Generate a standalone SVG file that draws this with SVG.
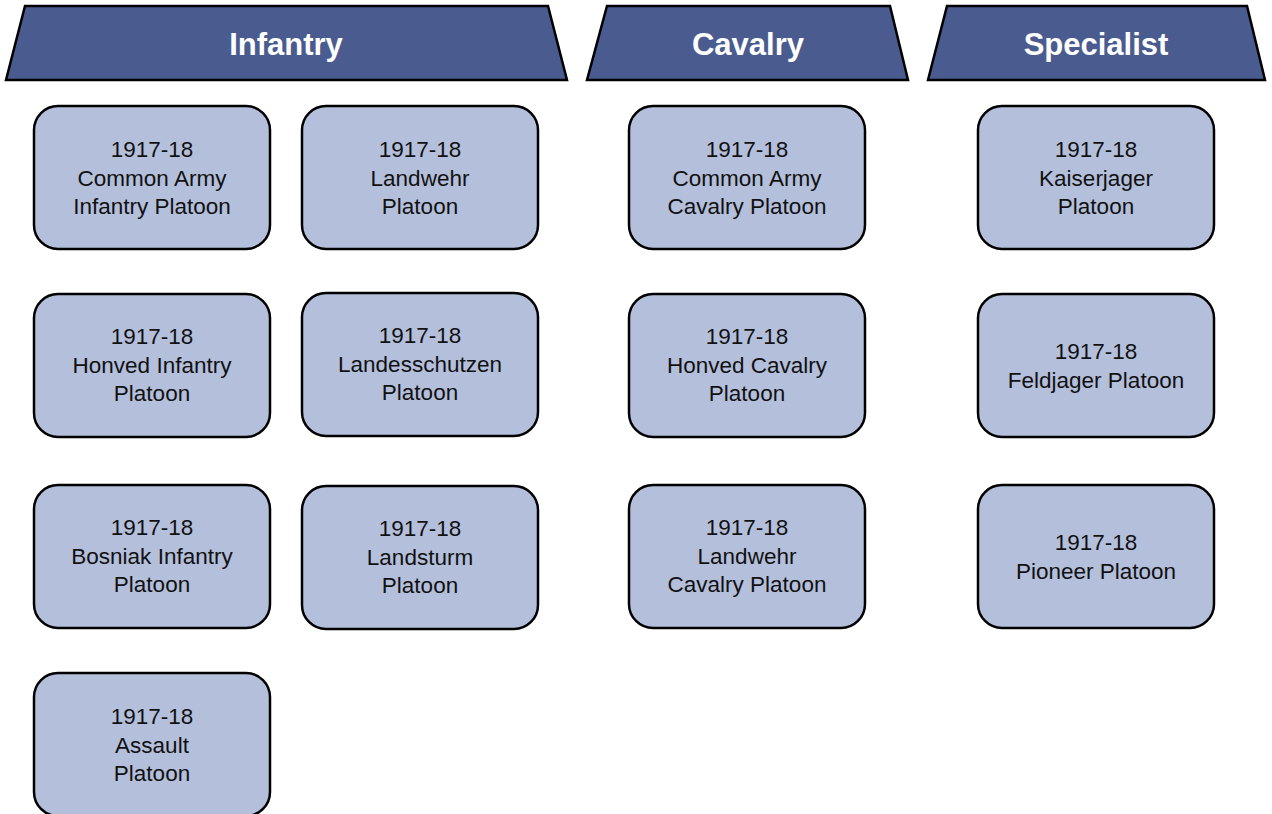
<svg xmlns="http://www.w3.org/2000/svg" width="1272" height="814" viewBox="0 0 1272 814">
<style>
.hdr{fill:#4a5b8f;stroke:#000;stroke-width:2.5;stroke-linejoin:miter}
.ht{font-family:"Liberation Sans",Arial,sans-serif;font-weight:bold;font-size:31px;fill:#fff;text-anchor:middle}
.box{fill:#b4bfdc;stroke:#000;stroke-width:2.5}
.bt{font-family:"Liberation Sans",Arial,sans-serif;font-size:22.5px;fill:#111;text-anchor:middle}
</style>
<rect width="1272" height="814" fill="#fff"/>
<g id="hdr-infantry"><polygon class="hdr" points="25,6 548,6 567,80 6,80"/><text class="ht" x="286" y="55">Infantry</text></g>
<g id="hdr-cavalry"><polygon class="hdr" points="607,6 890,6 908,80 587,80"/><text class="ht" x="748" y="55">Cavalry</text></g>
<g id="hdr-specialist"><polygon class="hdr" points="947,6 1247,6 1265,80 928,80"/><text class="ht" x="1096" y="55">Specialist</text></g>

<g id="n1"><rect class="box" x="34" y="106" width="236" height="143" rx="24"/><text class="bt" x="152" y="157">1917-18<tspan x="152" dy="28.5">Common Army</tspan><tspan x="152" dy="28.5">Infantry Platoon</tspan></text></g>
<g id="n2"><rect class="box" x="302" y="106" width="236" height="143" rx="24"/><text class="bt" x="420" y="157">1917-18<tspan x="420" dy="28.5">Landwehr</tspan><tspan x="420" dy="28.5">Platoon</tspan></text></g>
<g id="n3"><rect class="box" x="34" y="294" width="236" height="143" rx="24"/><text class="bt" x="152" y="344">1917-18<tspan x="152" dy="28.5">Honved Infantry</tspan><tspan x="152" dy="28.5">Platoon</tspan></text></g>
<g id="n4"><rect class="box" x="302" y="293" width="236" height="143" rx="24"/><text class="bt" x="420" y="343">1917-18<tspan x="420" dy="28.5">Landesschutzen</tspan><tspan x="420" dy="28.5">Platoon</tspan></text></g>
<g id="n5"><rect class="box" x="34" y="485" width="236" height="143" rx="24"/><text class="bt" x="152" y="535">1917-18<tspan x="152" dy="28.5">Bosniak Infantry</tspan><tspan x="152" dy="28.5">Platoon</tspan></text></g>
<g id="n6"><rect class="box" x="302" y="486" width="236" height="143" rx="24"/><text class="bt" x="420" y="536">1917-18<tspan x="420" dy="28.5">Landsturm</tspan><tspan x="420" dy="28.5">Platoon</tspan></text></g>
<g id="n7"><rect class="box" x="34" y="673" width="236" height="143" rx="24"/><text class="bt" x="152" y="724">1917-18<tspan x="152" dy="28.5">Assault</tspan><tspan x="152" dy="28.5">Platoon</tspan></text></g>

<g id="n8"><rect class="box" x="629" y="106" width="236" height="143" rx="24"/><text class="bt" x="747" y="157">1917-18<tspan x="747" dy="28.5">Common Army</tspan><tspan x="747" dy="28.5">Cavalry Platoon</tspan></text></g>
<g id="n9"><rect class="box" x="629" y="294" width="236" height="143" rx="24"/><text class="bt" x="747" y="344">1917-18<tspan x="747" dy="28.5">Honved Cavalry</tspan><tspan x="747" dy="28.5">Platoon</tspan></text></g>
<g id="n10"><rect class="box" x="629" y="485" width="236" height="143" rx="24"/><text class="bt" x="747" y="535">1917-18<tspan x="747" dy="28.5">Landwehr</tspan><tspan x="747" dy="28.5">Cavalry Platoon</tspan></text></g>

<g id="n11"><rect class="box" x="978" y="106" width="236" height="143" rx="24"/><text class="bt" x="1096" y="157">1917-18<tspan x="1096" dy="28.5">Kaiserjager</tspan><tspan x="1096" dy="28.5">Platoon</tspan></text></g>
<g id="n12"><rect class="box" x="978" y="294" width="236" height="143" rx="24"/><text class="bt" x="1096" y="359">1917-18<tspan x="1096" dy="28.5">Feldjager Platoon</tspan></text></g>
<g id="n13"><rect class="box" x="978" y="485" width="236" height="143" rx="24"/><text class="bt" x="1096" y="550">1917-18<tspan x="1096" dy="28.5">Pioneer Platoon</tspan></text></g>
<g id="connectors"></g>
</svg>
